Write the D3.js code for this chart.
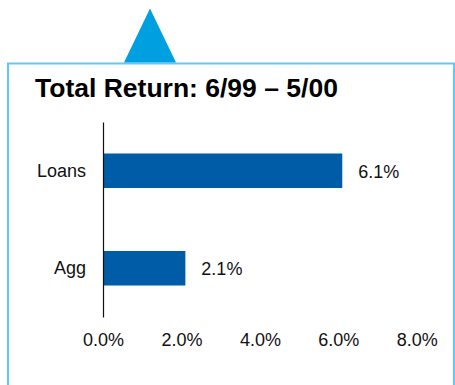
<!DOCTYPE html>
<html>
<head>
<meta charset="utf-8">
<script src="https://cdn.jsdelivr.net/npm/d3@7"></script>
<style>
  html, body { margin: 0; padding: 0; background: #fff; }
  svg { display: block; font-family: "Liberation Sans", Arial, sans-serif; }
</style>
</head>
<body>
<svg id="chart" width="455" height="385"></svg>
<script>
// Total return by asset class, in percent
const categories = ["Loans", "Agg"];
const returns = [6.1, 2.1];
const tickValues = [0, 2, 4, 6, 8];
const titleText = "Total Return: 6/99 \u2013 5/00";

const svg = d3.select("#chart");

// Framing panel with a pointer tab on top
svg.append("rect")
  .attr("x", 8).attr("y", 63.5)
  .attr("width", 446).attr("height", 340)
  .attr("fill", "#fff")
  .attr("stroke", "#5ccbfa")
  .attr("stroke-width", 2);

svg.append("path")
  .attr("d", d3.line()([[124, 62.5], [150, 8.5], [176, 62.5]]) + "Z")
  .attr("fill", "#009fe0");

svg.append("text")
  .attr("x", 35).attr("y", 97)
  .attr("font-size", 26.5)
  .attr("font-weight", "bold")
  .attr("fill", "#000")
  .text(titleText);

// Scales
const x = d3.scaleLinear().domain([0, 8]).range([103, 416.8]);
const y = d3.scaleBand().domain(categories).range([122, 317])
  .paddingInner(0.646).paddingOuter(0.323);

const data = categories.map((c, i) => ({ cat: c, value: returns[i] }));

// Bars
svg.append("g").selectAll("rect")
  .data(data)
  .join("rect")
  .attr("x", x(0))
  .attr("y", d => y(d.cat))
  .attr("width", d => x(d.value) - x(0))
  .attr("height", y.bandwidth())
  .attr("fill", "#005ca6");

// Value labels
svg.append("g").selectAll("text")
  .data(data)
  .join("text")
  .attr("x", d => x(d.value) + 16)
  .attr("y", d => y(d.cat) + y.bandwidth() / 2)
  .attr("dy", "0.38em")
  .attr("font-size", 18)
  .attr("fill", "#111")
  .text(d => d.value.toFixed(1) + "%");

// Category axis (vertical line with labels, no ticks)
const yAxis = svg.append("g")
  .attr("transform", `translate(${x(0)},0)`)
  .call(d3.axisLeft(y).tickSize(0).tickPadding(17).tickSizeOuter(0));
yAxis.select(".domain").attr("stroke", "#111").attr("stroke-width", 1.2);
yAxis.selectAll("text").attr("font-size", 18).attr("fill", "#111")
  .attr("font-family", "Liberation Sans, Arial, sans-serif");

// Value axis: labels only
const xAxis = svg.append("g")
  .attr("transform", "translate(0,327)")
  .call(d3.axisBottom(x).tickValues(tickValues).tickSize(0).tickPadding(6)
    .tickFormat(d => d.toFixed(1) + "%"));
xAxis.select(".domain").remove();
xAxis.selectAll("text").attr("font-size", 18).attr("fill", "#111")
  .attr("font-family", "Liberation Sans, Arial, sans-serif");
</script>
</body>
</html>
